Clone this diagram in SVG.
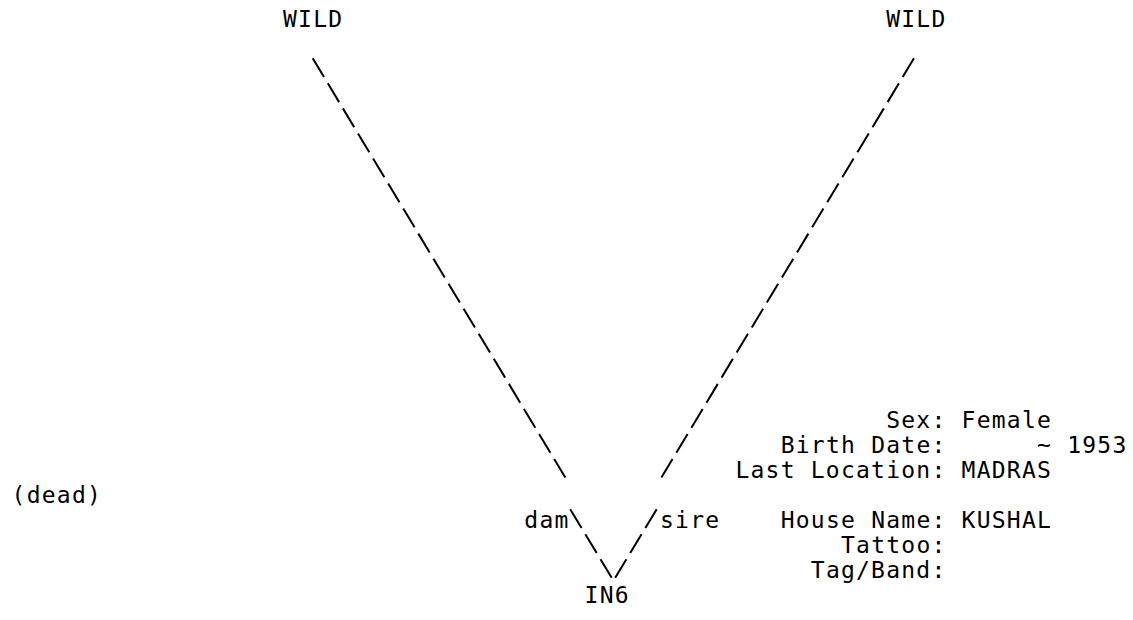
<svg xmlns="http://www.w3.org/2000/svg" width="1133" height="620" viewBox="0 0 1133 620">
<style>
  text { font-family: "DejaVu Sans Mono", "Liberation Mono", monospace; font-size: 23px; letter-spacing: 1.233px; fill: #000; }
  .dash { fill: none; stroke: #000; stroke-width: 2; stroke-dasharray: 21.93 7.31; stroke-linecap: butt; }
</style>
<rect width="1133" height="620" fill="#fff"/>
<g id="connectors">
  <path class="dash" d="M312.7,58.3 L565.3,477.5"/>
  <path class="dash" d="M914,58.3 L661.4,477.5"/>
  <path class="dash" d="M570.2,509.2 L611.7,577.7"/>
  <path class="dash" d="M656.7,509.2 L615.2,577.7"/>
  <text x="524.3" y="528">dam</text>
  <text x="660" y="528">sire</text>
</g>
<g id="node-dam">
  <text x="283" y="27">WILD</text>
</g>
<g id="node-sire">
  <text x="886.2" y="27">WILD</text>
</g>
<g id="node-in6">
  <text x="584.6" y="603.2">IN6</text>
  <text x="11.6" y="503">(dead)</text>
  <text x="886.2" y="427.8">Sex:</text>
  <text x="961.6" y="427.8">Female</text>
  <text x="780.7" y="452.9">Birth Date:</text>
  <text x="1037" y="452.9">~ 1953</text>
  <text x="735.4" y="477.9">Last Location:</text>
  <text x="961.6" y="477.9">MADRAS</text>
  <text x="780.7" y="528">House Name:</text>
  <text x="961.6" y="528">KUSHAL</text>
  <text x="841" y="553.1">Tattoo:</text>
  <text x="810.8" y="578.1">Tag/Band:</text>
</g>
</svg>
